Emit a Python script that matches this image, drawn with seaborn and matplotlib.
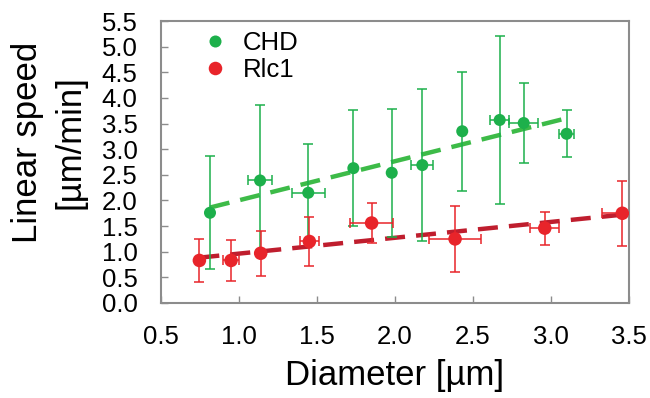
import numpy as np
import pandas as pd
import matplotlib
matplotlib.use("Agg")
import matplotlib.pyplot as plt
import seaborn as sns

# data
chd_x = [0.814, 1.135, 1.444, 1.733, 1.979, 2.175, 2.431, 2.671, 2.825, 3.100]
chd_y = [1.76, 2.39, 2.15, 2.63, 2.54, 2.69, 3.35, 3.57, 3.51, 3.30]
chd_yerr = [1.10, 1.47, 0.96, 1.13, 1.25, 1.48, 1.16, 1.64, 0.78, 0.46]
chd_xerr = [0.0, 0.077, 0.105, 0.0, 0.0, 0.07, 0.0, 0.06, 0.094, 0.047]

rlc_x = [0.746, 0.949, 1.139, 1.451, 1.850, 2.385, 2.960, 3.457]
rlc_y = [0.83, 0.83, 0.97, 1.20, 1.56, 1.25, 1.46, 1.75]
rlc_yerr = [0.42, 0.40, 0.44, 0.47, 0.39, 0.65, 0.32, 0.63]
rlc_xerr = [0.0, 0.053, 0.0, 0.06, 0.14, 0.166, 0.094, 0.128]

df = pd.DataFrame({
    "Diameter": chd_x + rlc_x,
    "Speed": chd_y + rlc_y,
    "Protein": ["CHD"] * len(chd_x) + ["Rlc1"] * len(rlc_x),
})

green = "#1db04b"
red = "#e8242a"
green_line = "#3dbb48"
red_line = "#bf1e2e"

sns.set_style("ticks")
plt.rcParams["font.family"] = ["Liberation Sans", "DejaVu Sans"]
plt.rcParams["text.color"] = "black"
plt.rcParams["axes.labelcolor"] = "black"
plt.rcParams["xtick.labelcolor"] = "black"
plt.rcParams["ytick.labelcolor"] = "black"

fig = plt.figure(figsize=(6.5, 3.98), dpi=100)
ax = fig.add_axes([0.2477, 0.2387, 0.72, 0.7085])

# dashed trend lines
sns.regplot(data=df[df.Protein == "CHD"], x="Diameter", y="Speed", ax=ax, ci=None,
            scatter=False, line_kws=dict(color=green_line, lw=3.2, ls=(0, (4.5, 2.5))))
sns.regplot(data=df[df.Protein == "Rlc1"], x="Diameter", y="Speed", ax=ax, ci=None,
            scatter=False, line_kws=dict(color=red_line, lw=3.2, ls=(0, (4.5, 2.5))))

# error bars
ax.errorbar(chd_x, chd_y, yerr=chd_yerr, xerr=chd_xerr, fmt="none", ecolor=green,
            elinewidth=1.1, capsize=3.6, capthick=1.1, zorder=3)
ax.errorbar(rlc_x, rlc_y, yerr=rlc_yerr, xerr=rlc_xerr, fmt="none", ecolor=red,
            elinewidth=1.1, capsize=3.6, capthick=1.1, zorder=3)

sns.scatterplot(data=df, x="Diameter", y="Speed", hue="Protein", size="Protein",
                sizes={"CHD": 75, "Rlc1": 95}, palette={"CHD": green, "Rlc1": red},
                linewidth=0, ax=ax, zorder=4)

ax.set_xlim(0.5, 3.5)
ax.set_ylim(0, 5.5)
xt = np.arange(0.5, 3.51, 0.5)
yt = np.arange(0, 5.51, 0.5)
ax.set_xticks(xt)
ax.set_yticks(yt)
ax.set_xticklabels([f"{v:.1f}" for v in xt])
ax.set_yticklabels([f"{v:.1f}" for v in yt])
ax.tick_params(direction="in", length=5, width=1, color="#8c8c8c", labelsize=18.5,
               labelcolor="black")
ax.tick_params(axis="x", pad=16)
ax.tick_params(axis="y", pad=17)
for s in ax.spines.values():
    s.set_color("#8c8c8c")
    s.set_linewidth(1.5)

ax.set_xlabel("Diameter [µm]", fontsize=25, labelpad=7, color="black")
ax.set_ylabel("Linear speed\n[µm/min]", fontsize=25, linespacing=1.35, color="black")
ax.yaxis.set_label_coords(-0.16, 0.571)

handles, labels = ax.get_legend_handles_labels()
leg = ax.legend(handles=handles, labels=labels, loc="upper left", bbox_to_anchor=(0.038, 1.047),
                frameon=False, fontsize=18.5, handlelength=1.0, handletextpad=0.59,
                labelspacing=0.11, borderaxespad=0.5)
for t in leg.get_texts():
    t.set_color("black")

fig.savefig("out.png", dpi=100)
